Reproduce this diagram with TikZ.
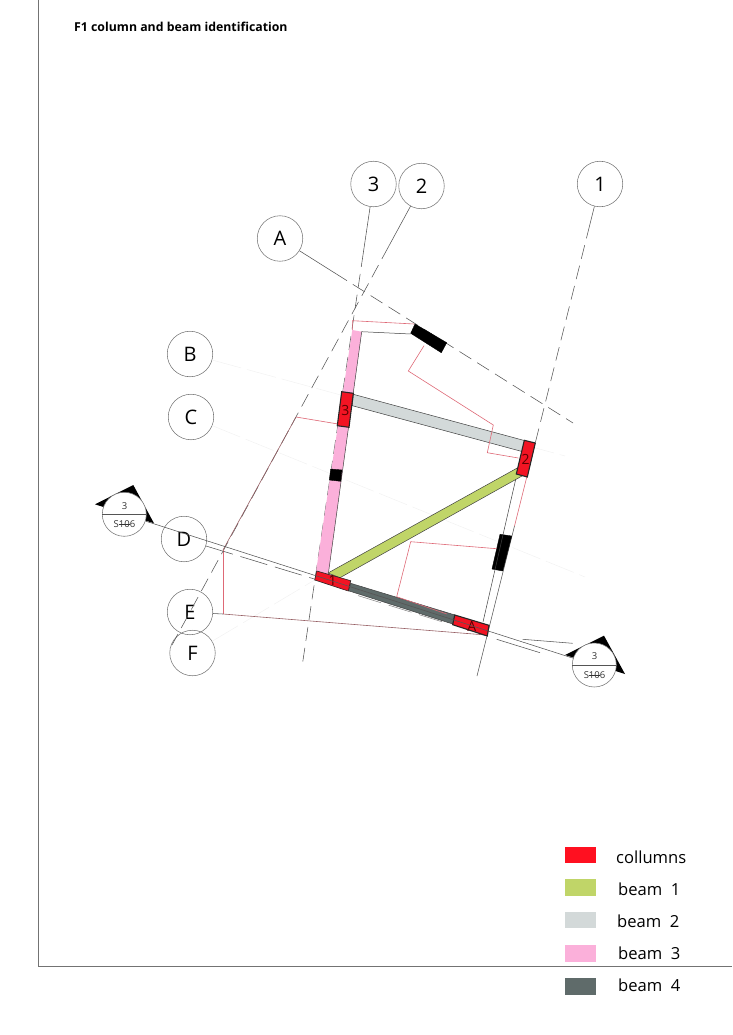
\documentclass[tikz,border=0pt]{standalone}
\usepackage{fontspec}
\usepackage{xcolor}
\usetikzlibrary{calc}
\setmainfont{Open Sans}
\definecolor{colred}{RGB}{242, 20, 35}
\definecolor{legred}{RGB}{255, 16, 32}
\definecolor{beamone}{RGB}{192, 213, 104}
\definecolor{beamtwo}{RGB}{211, 217, 217}
\definecolor{beamthree}{RGB}{251, 176, 218}
\definecolor{beamfour}{RGB}{95, 107, 106}
\definecolor{redline}{RGB}{222, 105, 118}
\definecolor{mixline}{RGB}{150, 95, 100}
\definecolor{gridline}{RGB}{85, 85, 85}
\newcommand{\sheetno}{S\makebox[0pt][l]{\rule[2.7pt]{11pt}{0.4pt}}106}
\tikzset{
  gridmark/.style={circle,draw=gridline!80,line width=0.55pt,minimum size=45.5pt,inner sep=0pt,font=\fontsize{20}{20}\selectfont},
  secmark/.style={circle,draw=gridline!80,fill=white,line width=0.55pt,minimum size=44pt,inner sep=0pt},
  gridln/.style={draw=gridline,line width=0.55pt},
  griddash/.style={dash pattern=on 14pt off 7pt},
  faintln/.style={draw=black!5,line width=0.5pt,dash pattern=on 30pt off 6pt},
  redln/.style={draw=redline,line width=0.6pt},
  mixln/.style={draw=mixline,line width=0.6pt},
  beamln/.style={draw=black!75,line width=0.5pt},
  colbox/.style={fill=colred,draw=black!85,line width=1.1pt},
  blackbox/.style={fill=black,draw=black,line width=0.4pt},
  swatch/.style={minimum width=31pt,minimum height=16.5pt,inner sep=0pt,anchor=west},
  legtext/.style={anchor=base west,inner sep=0pt,font=\fontsize{16.6}{16.6}\selectfont},
  collabel/.style={inner sep=0pt,text=black!65!red,font=\fontsize{14}{14}\selectfont},
  seclabel/.style={inner sep=0pt,text=black!80,font=\fontsize{9.5}{9.5}\selectfont}
}
\begin{document}
\begin{tikzpicture}[x=1pt,y=-1pt]
  \useasboundingbox (0,0) rectangle (732,1035);
  \draw[draw=black!55,line width=0.6pt] (38.5,0) -- (38.5,966.5) -- (732,966.5);
  \node[anchor=base west,inner sep=0pt,font=\fontsize{12.3}{12.3}\selectfont\bfseries] (title) at (74,32) {F1 column and beam identification};

  \node[gridmark] (g-3) at (373.5,184) {3};
  \node[gridmark] (g-2) at (421.5,186) {2};
  \node[gridmark] (g-1) at (600,184) {1};
  \node[gridmark] (g-A) at (280,238.5) {A};
  \node[gridmark] (g-B) at (190,354) {B};
  \node[gridmark] (g-C) at (191,417) {C};
  \node[gridmark] (g-D) at (184,539) {D};
  \node[gridmark] (g-E) at (190,612) {E};
  \node[gridmark] (g-F) at (192.5,653) {F};

  \coordinate (e-3) at (302,667);
  \coordinate (e-2) at (172,645);
  \coordinate (e-1) at (477,676);
  \coordinate (e-A) at (573,423);
  \coordinate (e-B) at (565,456);
  \coordinate (e-C) at (585,577);
  \coordinate (e-F) at (318,578);
  \coordinate (d-3) at ($(g-3)!0.143!(e-3)$);
  \coordinate (d-2) at ($(g-2)!0.132!(e-2)$);
  \coordinate (d-1) at ($(g-1)!0.083!(e-1)$);
  \coordinate (c-1) at ($(g-1)!0.53!(e-1)$);
  \coordinate (r-1) at ($(g-1)!0.695!(e-1)$);
  \coordinate (d-A) at ($(g-A)!0.188!(e-A)$);

  \path[faintln]
    (g-B) edge (e-B)
    (g-C) edge (e-C)
    (g-F) edge (e-F);
  \path[gridln]
    (g-3) edge (d-3)
    (g-2) edge (d-2)
    (g-1) edge (d-1)
    (g-A) edge (d-A)
    (r-1) edge (e-1);
  \path[redln] (c-1) edge (r-1);
  \path[gridln,griddash]
    (d-3) edge (e-3)
    (d-2) edge (e-2)
    (d-1) edge (c-1)
    (d-A) edge (e-A);

  \draw[blackbox] (415,324) -- (446.7,342.7) -- (441.3,352.7) -- (410.7,333.3) -- cycle;
  \draw[blackbox] (500,534.3) -- (511.7,536) -- (502.7,571) -- (492,569) -- cycle;
  \draw[beamln] (361.7,331.7) -- (410.7,334);
  \draw[beamln] (516.7,475) -- (483,622);
  \draw[redln] (352.3,330) -- (352.3,320.7) -- (414,324);

  \fill[beamthree] (352.3,330) -- (361.7,331.7) -- (328.3,574) -- (316,571.7) -- cycle;
  \draw[beamln] (361.7,331.7) -- (328.3,574);
  \draw[fill=beamtwo,beamln] (353.3,394.3) -- (525,440.7) -- (522.7,451.7) -- (352.3,405.7) -- cycle;
  \draw[fill=beamone,beamln] (516.7,468.3) -- (522,476) -- (340,577.7) -- (328,573) -- cycle;
  \draw[fill=beamfour,beamln] (350.7,583.3) -- (455,615) -- (452.7,624) -- (348.3,590.7) -- cycle;
  \draw[draw=black!60,line width=0.4pt] (349.5,587) -- (453.8,619.5);

  \path (g-E) ++(23,1.5) coordinate (r-0);
  \draw[gridln] (r-0) -- (223,614);
  \draw[redln] (338,424) -- (296,417);
  \draw[mixln] (296,417) -- (223,550);
  \draw[redln] (223,550) -- (223,614);
  \draw[mixln] (223,614) -- (486,635);
  \draw[redln] (424,345.7) -- (408.3,371) -- (493.3,425) -- (487.3,452.7) -- (518.3,458);
  \draw[redln] (496.7,548.7) -- (410.7,541.7) -- (396.7,596.7) -- (446.7,614);
  \draw[gridln] (496.7,639.3) -- (540,652.7);
  \draw[gridln] (522.7,639.3) -- (572.7,643.3);
  \draw[gridln,dash pattern=on 28pt off 8pt] (206,546) -- (316,579.5);
  \draw[gridln,draw=gridline!70,dash pattern=on 24pt off 8pt] (358,595.6) -- (447,623.3);

  \draw[colbox] (341.7,391.7) -- (353.3,393.3) -- (349,427.3) -- (337.3,425.7) -- cycle;
  \draw[colbox] (524.3,440.3) -- (535.3,443) -- (527.3,477) -- (516.3,474) -- cycle;
  \draw[colbox,line width=0.6pt] (316.7,571) -- (350.7,580.7) -- (348.3,591) -- (314.7,580) -- cycle;
  \draw[colbox] (454.7,615) -- (489,625.3) -- (487.3,636) -- (452.7,624.7) -- cycle;
  \draw[blackbox] (330.7,469) -- (342,470) -- (340.7,481.3) -- (329.3,480) -- cycle;
  \node[collabel] (lab-3) at (345.3,410) {3};
  \node[collabel] (lab-2) at (525.5,459.5) {2};
  \node[collabel] (lab-1) at (332.7,580.5) {1};
  \node[collabel] (lab-A) at (471.7,626) {A};

  \fill[black] (95,504.3) -- (133.3,485) -- (154,523.3) -- cycle;
  \fill[black] (565,655) -- (604,635.7) -- (625,674) -- cycle;
  \node[secmark] (sec-l) at (124.3,514.3) {};
  \node[secmark] (sec-r) at (594.3,665) {};
  \path[gridln] (sec-l) edge (sec-r);
  \draw[gridln] (sec-l.west) -- (sec-l.east);
  \draw[gridln] (sec-r.west) -- (sec-r.east);
  \node[seclabel] (sec-l-t) at (124.5,506) {3};
  \node[seclabel] (sec-l-b) at (124.5,524) {\sheetno};
  \node[seclabel] (sec-r-t) at (594.5,656.5) {3};
  \node[seclabel] (sec-r-b) at (594.5,675) {\sheetno};

  \node[swatch,fill=legred] (key-0) at (564.3,855) {};
  \node[swatch,fill=beamone] (key-1) at (564.3,887.5) {};
  \node[swatch,fill=beamtwo] (key-2) at (564.3,920) {};
  \node[swatch,fill=beamthree] (key-3) at (564.3,953.5) {};
  \node[swatch,fill=beamfour] (key-4) at (564.3,986.5) {};
  \node[legtext] (txt-0) at (616,863) {collumns};
  \node[legtext] (txt-1) at (618,895.5) {beam\ \ 1};
  \node[legtext] (txt-2) at (617,927.5) {beam\ \ 2};
  \node[legtext] (txt-3) at (618,959.5) {beam\ \ 3};
  \node[legtext] (txt-4) at (618,991.5) {beam\ \ 4};
\end{tikzpicture}
\end{document}
